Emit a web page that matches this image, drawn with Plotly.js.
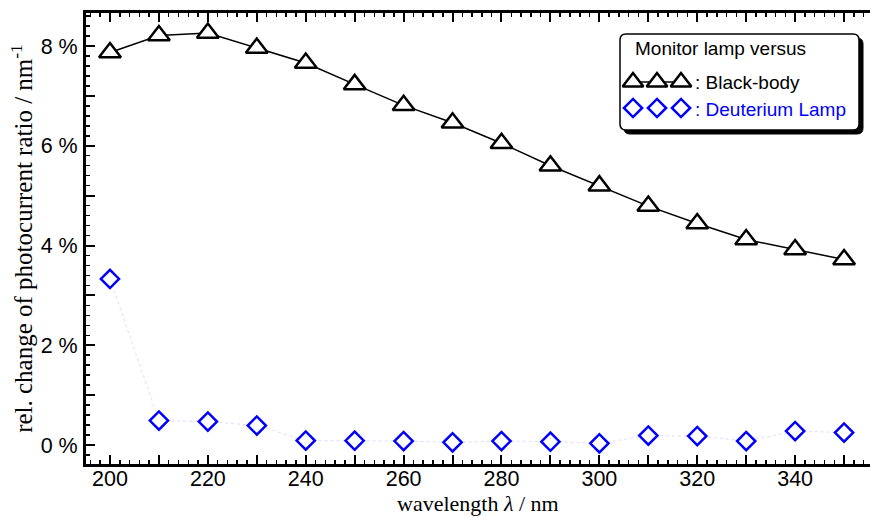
<!DOCTYPE html>
<html>
<head>
<meta charset="utf-8">
<script src="https://cdn.plot.ly/plotly-3.0.1.min.js"></script>
<style>html,body{margin:0;padding:0;background:#fff;}#chart{width:870px;height:517px;}</style>
</head>
<body>
<div id="chart"></div>
<script>
// Data
const wavelength = [200,210,220,230,240,250,260,270,280,290,300,310,320,330,340,350];
const blackBody  = [7.87,8.21,8.26,7.96,7.66,7.23,6.81,6.46,6.05,5.60,5.20,4.79,4.44,4.12,3.92,3.72];
const deuterium  = [3.33,0.49,0.47,0.39,0.09,0.086,0.08,0.054,0.08,0.066,0.034,0.19,0.18,0.08,0.28,0.25];
const xTickVals  = [200,210,220,230,240,250,260,270,280,290,300,310,320,330,340,350];
const xTickText  = ['200','','220','','240','','260','','280','','300','','320','','340',''];
const yTickVals  = [0,1,2,3,4,5,6,7,8];
const yTickText  = ['0 %','','2 %','','4 %','','6 %','','8 %'];
const xTitle = 'wavelength <i>λ</i> / nm';
const yTitle = 'rel. change of photocurrent ratio / nm<sup>-1</sup>';
const legendTitle = 'Monitor lamp versus';
const legendNames = [': Black-body', ': Deuterium Lamp'];

// plot frame in pixels
const L = 86, R = 870, T = 13, B = 464;
const W = 870, H = 517;
const py = y => (B - y) / (B - T);

// rounded rectangle in pixel space (overlay axes x2/y2 are in pixels)
function roundRect(x0, y0, x1, y1, r) {
  return `M${x0+r},${y0} L${x1-r},${y0} Q${x1},${y0} ${x1},${y0+r} L${x1},${y1-r} Q${x1},${y1} ${x1-r},${y1} L${x0+r},${y1} Q${x0},${y1} ${x0},${y1-r} L${x0},${y0+r} Q${x0},${y0} ${x0+r},${y0} Z`;
}

const traces = [
  {
    x: wavelength, y: blackBody, type: 'scatter', mode: 'lines+markers',
    line: {color: '#000', width: 1.5},
    marker: {symbol: 'triangle-up', size: 19, color: '#fff', line: {color: '#000', width: 2.5}},
    cliponaxis: false, showlegend: false, hoverinfo: 'skip'
  },
  {
    x: wavelength, y: deuterium, type: 'scatter', mode: 'lines+markers',
    line: {color: '#dcdcff', width: 1, dash: 'dot'},
    marker: {symbol: 'diamond', size: 14, color: '#fff', line: {color: '#0000ff', width: 2.5}},
    cliponaxis: false, showlegend: false, hoverinfo: 'skip'
  },
  // legend glyphs (pixel-space overlay axes)
  {
    x: [633, 657, 681], y: [82, 82, 82], xaxis: 'x2', yaxis: 'y2',
    type: 'scatter', mode: 'lines+markers',
    line: {color: '#000', width: 1.5},
    marker: {symbol: 'triangle-up', size: 18, color: '#fff', line: {color: '#000', width: 2.5}},
    cliponaxis: false, showlegend: false, hoverinfo: 'skip'
  },
  {
    x: [633, 657, 681], y: [108, 108, 108], xaxis: 'x2', yaxis: 'y2',
    type: 'scatter', mode: 'markers',
    marker: {symbol: 'diamond', size: 14, color: '#fff', line: {color: '#0000ff', width: 2.5}},
    cliponaxis: false, showlegend: false, hoverinfo: 'skip'
  }
];

const tickFont = {family: 'Liberation Sans, Arial, sans-serif', size: 21.5, color: '#000'};
const xTitleFont = {family: 'Liberation Serif, Times New Roman, serif', size: 22, color: '#000'};
const yTitleFont = {family: 'Liberation Serif, Times New Roman, serif', size: 25, color: '#000'};
const legFont = {family: 'Liberation Sans, Arial, sans-serif', size: 19};

const layout = {
  width: W, height: H,
  margin: {l: L, r: W - R, t: T, b: H - B, pad: 0},
  paper_bgcolor: '#fff', plot_bgcolor: 'rgba(0,0,0,0)',
  showlegend: false,
  xaxis: {
    range: [195.1, 355.3], showgrid: false, zeroline: false,
    showline: true, linecolor: '#000', linewidth: 3, mirror: 'allticks',
    tickmode: 'array', tickvals: xTickVals, ticktext: xTickText,
    ticks: 'inside', ticklen: 9, tickwidth: 2, tickcolor: '#000',
    minor: {dtick: 2, tick0: 200, ticks: 'inside', ticklen: 4, tickwidth: 1.5, tickcolor: '#000', showgrid: false},
    tickfont: tickFont, ticklabelstandoff: -7
  },
  yaxis: {
    range: [-0.381, 8.662], showgrid: false, zeroline: false,
    showline: true, linecolor: '#000', linewidth: 3, mirror: false,
    tickmode: 'array', tickvals: yTickVals, ticktext: yTickText,
    ticks: 'inside', ticklen: 9, tickwidth: 2, tickcolor: '#000',
    minor: {dtick: 0.2, tick0: 0, ticks: 'inside', ticklen: 4, tickwidth: 1.5, tickcolor: '#000', showgrid: false},
    tickfont: tickFont, ticklabelstandoff: 1,
    title: {text: yTitle, font: yTitleFont, standoff: 1}
  },
  xaxis2: {overlaying: 'x', range: [L, R], visible: false, fixedrange: true},
  yaxis2: {overlaying: 'y', range: [B, T], visible: false, fixedrange: true},
  shapes: [
    {type: 'path', xref: 'x2', yref: 'y2', path: roundRect(624, 38, 863, 134, 6),
     fillcolor: '#000', line: {color: '#000', width: 1}, layer: 'below'},
    {type: 'path', xref: 'x2', yref: 'y2', path: roundRect(620, 34, 859, 130, 6),
     fillcolor: '#fff', line: {color: '#000', width: 1.5}, layer: 'below'}
  ],
  annotations: [
    {xref: 'paper', yref: 'paper', x: 0.5, y: py(517), xanchor: 'center', yanchor: 'bottom',
     text: xTitle, showarrow: false, font: xTitleFont, borderpad: 0},
    {xref: 'x2', yref: 'y2', x: 633, y: 48, xanchor: 'left', yanchor: 'middle',
     text: legendTitle, showarrow: false, font: Object.assign({color: '#000'}, legFont)},
    {xref: 'x2', yref: 'y2', x: 693, y: 82, xanchor: 'left', yanchor: 'middle',
     text: legendNames[0], showarrow: false, font: Object.assign({color: '#000'}, legFont)},
    {xref: 'x2', yref: 'y2', x: 693, y: 109, xanchor: 'left', yanchor: 'middle',
     text: legendNames[1], showarrow: false, font: Object.assign({color: '#0000ff'}, legFont)}
  ]
};

Plotly.newPlot('chart', traces, layout, {staticPlot: true, displayModeBar: false});
</script>
</body>
</html>
